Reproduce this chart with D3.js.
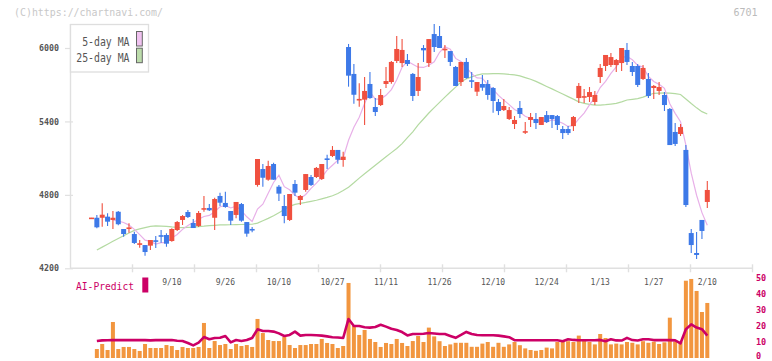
<!DOCTYPE html>
<html><head><meta charset="utf-8">
<script src="https://cdn.jsdelivr.net/npm/d3@7"></script>
<style>
html,body{margin:0;padding:0;background:#fff;}
svg{display:block;}
text{font-family:"DejaVu Sans Mono","Liberation Mono",monospace;}
</style></head>
<body><svg id="chart" width="772" height="361"></svg>
<script>
// ---- data ----
const dates = ["8/20","8/21","8/22","8/25","8/26","8/27","8/28","8/29",
"9/1","9/2","9/3","9/4","9/5","9/8","9/9","9/10","9/11","9/12","9/16","9/17","9/18","9/19","9/22","9/24","9/25","9/26","9/29","9/30",
"10/1","10/2","10/3","10/6","10/7","10/8","10/9","10/10","10/14","10/15","10/16","10/17","10/20","10/21","10/22","10/23","10/24","10/27","10/28","10/29","10/30","10/31",
"11/4","11/5","11/6","11/7","11/10","11/11","11/12","11/13","11/14","11/17","11/18","11/19","11/20","11/21","11/25","11/26","11/27","11/28",
"12/1","12/2","12/3","12/4","12/5","12/8","12/9","12/10","12/11","12/12","12/15","12/16","12/17","12/18","12/19","12/22","12/23","12/24","12/25","12/26","12/29","12/30",
"1/5","1/6","1/7","1/8","1/9","1/13","1/14","1/15","1/16","1/19","1/20","1/21","1/22","1/23","1/26","1/27","1/28","1/29","1/30",
"2/2","2/3","2/4","2/5","2/6","2/9","2/10"];

const open = [4606,4613,4613,4622,4595,4662,4521,4525,4480,4396,
4390,4385,4425,4466,4472,4423,4513,4595,4660,4570,
4546,4683,4693,4613,4791,4734,4668,4636,4725,4578,
4517,4881,5011,4924,5052,4867,4709,4595,4889,4758,
4840,4946,4946,4930,5095,5118,5167,5085,6008,5788,
5575,5578,5706,5518,5534,5706,5722,5894,5877,5902,
5788,5649,6000,5877,6114,6098,5985,5975,5845,5722,
5886,5732,5643,5706,5706,5673,5559,5493,5420,5379,
5510,5312,5412,5420,5371,5452,5452,5444,5338,5338,
5362,5591,5598,5600,5559,5763,5853,5861,5861,5877,
5984,5853,5853,5747,5747,5673,5649,5616,5502,5314,
5297,5167,4488,4325,4595,4742];

const high = [4612,4636,4731,4649,4668,4668,4521,4568,4499,4431,
4390,4431,4464,4513,4486,4527,4586,4635,4676,4603,
4668,4791,4725,4777,4818,4826,4668,4742,4733,4578,
4537,5093,5052,5079,5063,4881,4799,4807,4921,4799,
4970,4962,5028,5052,5128,5199,5167,5153,6033,5869,
5712,5763,5804,5591,5665,5845,5894,6098,6073,5951,
5796,5877,6024,6073,6196,6180,6024,5975,5853,5886,
5918,5804,5722,5779,5738,5681,5583,5583,5518,5444,
5567,5395,5469,5469,5436,5485,5452,5452,5362,5362,
5444,5714,5665,5681,5649,5869,5943,5959,5910,6000,
6041,5886,5869,5861,5796,5698,5722,5640,5510,5387,
5379,5207,4521,4497,4595,4913];

const low = [4604,4527,4540,4546,4521,4551,4458,4491,4399,4368,
4303,4350,4366,4409,4376,4417,4505,4554,4611,4529,
4537,4663,4668,4513,4709,4695,4554,4609,4581,4458,
4494,4867,4867,4916,4924,4750,4568,4586,4791,4717,
4826,4872,4938,4922,5011,5109,5055,5030,5684,5545,
5520,5371,5586,5444,5526,5673,5708,5877,5845,5853,
5567,5608,5886,5845,5967,6000,5918,5853,5690,5690,
5749,5673,5608,5651,5578,5471,5452,5485,5412,5338,
5428,5297,5354,5338,5371,5387,5346,5330,5256,5289,
5322,5550,5550,5559,5534,5714,5812,5845,5804,5812,
5861,5771,5681,5739,5591,5583,5616,5485,5207,5199,
5281,4701,4325,4276,4439,4693];

const close = [4610,4535,4638,4581,4613,4560,4480,4530,4407,4400,
4333,4431,4420,4462,4401,4521,4578,4627,4619,4529,
4652,4687,4674,4766,4736,4701,4589,4742,4589,4483,
4513,5093,4940,5036,4924,4810,4627,4807,4818,4791,
4970,4881,5020,5052,5088,5167,5087,5112,5774,5618,
5580,5649,5591,5477,5616,5730,5886,5992,5984,5869,
5608,5763,5981,6073,6008,6000,5990,5886,5690,5886,
5755,5728,5722,5676,5616,5567,5485,5526,5493,5412,
5461,5316,5436,5387,5436,5395,5420,5371,5305,5305,
5436,5690,5602,5640,5616,5837,5943,5926,5902,6000,
5886,5804,5698,5837,5608,5690,5681,5534,5207,5216,
5354,4717,4390,4309,4505,4840];

const ma5 = [null,null,null,null,4595,4585,4574,4553,4518,4475,
4430,4420,4398,4409,4409,4447,4476,4518,4549,4575,
4601,4623,4632,4662,4703,4713,4693,4707,4671,4621,
4583,4684,4724,4813,4901,4961,4867,4841,4797,4771,
4803,4853,4896,4943,5002,5042,5083,5101,5246,5352,
5434,5547,5642,5583,5583,5613,5660,5740,5842,5892,
5868,5843,5841,5859,5887,5965,6010,5991,5915,5890,
5841,5789,5756,5753,5699,5662,5613,5574,5537,5497,
5475,5442,5424,5402,5407,5394,5415,5402,5385,5359,
5367,5421,5468,5535,5597,5677,5728,5792,5845,5922,
5931,5904,5858,5845,5767,5727,5703,5670,5544,5466,
5398,5206,4977,4797,4655,4552];

const ma25 = [null,4350,4373,4397,4421,4444,4466,4488,4510,4522,
4533,4542,4546,4544,4542,4538,4535,4533,4535,4537,
4541,4544,4548,4551,4554,4555,4556,4557,4558,4559,
4560,4569,4589,4608,4629,4654,4680,4706,4722,4730,
4738,4747,4756,4767,4779,4793,4811,4835,4863,4899,
4937,4973,5007,5042,5077,5111,5145,5179,5219,5267,
5315,5372,5420,5469,5513,5556,5599,5640,5680,5722,
5748,5764,5779,5788,5789,5790,5790,5788,5784,5781,
5772,5758,5745,5727,5707,5686,5666,5645,5624,5603,
5582,5560,5548,5540,5534,5534,5537,5542,5547,5560,
5575,5581,5587,5599,5615,5630,5632,5634,5631,5627,
5620,5583,5546,5511,5480,5461];

const volume = [null,5.6,8.75,5,22.5,5.6,6.9,6.9,5.6,4.4,
8.75,6.25,6.25,6.25,8.1,7.5,5,6.9,6.25,6.25,
6.9,21.9,6.25,10.6,8.1,8.75,5.6,8.75,7.5,8.1,
6.9,24.4,15.6,11.25,10.6,10.6,13.1,8.1,6.25,8.1,
8.1,8.75,8.75,11.9,9.4,8.75,6.25,7.5,46.9,20,
14.4,17.5,11.9,10,6.9,9.4,8.75,11.9,9.4,7.5,
10.6,13.75,10,19,13.5,10.5,7.5,8.5,9.5,9.5,
9.5,7,7,9,10,7,9.5,7,8.5,10,
8,6,5,4.5,5,6.5,6,10,11,10.5,
10,14,11,10,8.5,15,12.5,8.5,9,8.5,
10,9.5,8.5,10.5,9.5,10.2,8.75,9.8,25.2,10.2,
10.2,48.3,49.4,41.9,28.75,34.4];

const aiPredict = [null,10.6,11,11.1,11.2,11.2,11.2,11.2,11.2,11.2,
11.2,11,11.2,11.2,11.2,11.2,10.8,10.6,9.4,7.9,
9.6,13.1,11.7,12.5,12.7,13.75,9.8,11.25,10.6,11.2,
12.5,17.9,16.9,16.9,16.5,15.4,13.75,14.4,16.5,14,
14.4,14.4,14.2,14,13.5,13,12.8,12.5,24.4,20,
20,19.2,19,19.4,20.8,19.6,18.3,17.5,16.2,14.1,
15,15,15.2,15.6,15.3,15,15,13.8,12.6,14.4,
16.3,15,14.4,14.2,14.2,14.2,14,13.5,13,11.1,
11.1,11.1,11.1,11.1,11.1,11.1,11.1,11.1,10.5,11.7,
11.3,11.1,11.1,11.1,11.1,11.3,10.5,11.7,11,10.9,
12.6,11.2,10.9,11.7,11.7,11.2,11.2,11.2,11.2,11,
9.2,18,21,19,18,14];

const dateLabels = ["9/10","9/26","10/10","10/27","11/11","11/26","12/10","12/24","1/13","1/27","2/10"];
const priceTicks = [4200,4800,5400,6000];
const volumeTicks = [0,10,20,30,40,50];
const legendItems = ["5-day MA","25-day MA"];

// ---- drawing ----
const svg = d3.select("#chart");
const RED = "#f0503f", BLUE = "#3d79e8", PINK = "#e8b0e8", GREEN = "#b4daa2",
      ORANGE = "#f2963f", MAG = "#cc0066", AXIS = "#e0e0e0";

const x = d3.scalePoint().domain(dates).range([91.5, 707.3]);
const y = d3.scaleLinear().domain([4200, 6000]).range([268.3, 48]);
const yv = d3.scaleLinear().domain([0, 50]).range([358, 278]);
const gridX = d3.scaleLinear().domain([0, 11]).range([70, 752]);

const rows = dates.map((d, i) => ({d, i, o: open[i], h: high[i], l: low[i], c: close[i],
  m5: ma5[i], m25: ma25[i], v: volume[i], ai: aiPredict[i]}));

// header
svg.append("text").attr("x", 14).attr("y", 16).attr("font-size", 10).attr("fill", "#c8c8c8")
  .attr("textLength", 149).attr("lengthAdjust", "spacingAndGlyphs").text("(C)https://chartnavi.com/");
svg.append("text").attr("x", 757.5).attr("y", 16).attr("text-anchor", "end").attr("font-size", 10)
  .attr("fill", "#bbb").text("6701");

// axes of price panel
svg.append("line").attr("x1", 70.5).attr("x2", 70.5).attr("y1", 24).attr("y2", 268.5)
  .attr("stroke", AXIS).attr("stroke-width", 1.4);
svg.append("line").attr("x1", 70).attr("x2", 752).attr("y1", 268.3).attr("y2", 268.3)
  .attr("stroke", AXIS).attr("stroke-width", 1.4);

const yAxis = d3.axisLeft(y).tickValues(priceTicks).tickSize(8).tickPadding(6).tickFormat(d3.format("d"));
const gy = svg.append("g").attr("transform", "translate(73,0)").call(yAxis);
gy.select(".domain").remove();
gy.selectAll(".tick line").attr("stroke", AXIS).attr("stroke-width", 1.2);
gy.selectAll(".tick text").attr("fill", "#555").attr("font-size", 8.3)
  .attr("font-family", "DejaVu Sans Mono").attr("font-weight", "bold");

const xAxis = d3.axisBottom(gridX).tickValues(d3.range(1, 12)).tickSize(8).tickFormat("");
const gx = svg.append("g").attr("transform", "translate(0,264.3)").call(xAxis);
gx.select(".domain").remove();
gx.selectAll(".tick line").attr("stroke", AXIS).attr("stroke-width", 1.4);

// moving averages
const lineMA = key => d3.line().defined(r => r[key] != null).x(r => x(r.d)).y(r => y(r[key]));
svg.append("path").datum(rows).attr("d", lineMA("m25")).attr("fill", "none")
  .attr("stroke", GREEN).attr("stroke-width", 1.2);
svg.append("path").datum(rows).attr("d", lineMA("m5")).attr("fill", "none")
  .attr("stroke", PINK).attr("stroke-width", 1.2);

// candles
const cg = svg.append("g");
cg.selectAll("line.wick").data(rows).join("line").attr("class", "wick")
  .attr("x1", r => x(r.d)).attr("x2", r => x(r.d))
  .attr("y1", r => y(r.h)).attr("y2", r => y(r.l))
  .attr("stroke", r => r.c >= r.o ? RED : BLUE).attr("stroke-width", 1.1);
cg.selectAll("rect.body").data(rows).join("rect").attr("class", "body")
  .attr("x", r => x(r.d) - 2.5).attr("width", 5)
  .attr("y", r => { const t = y(Math.max(r.o, r.c)), b = y(Math.min(r.o, r.c));
      return (b - t) < 1.6 ? (t + b) / 2 - 0.8 : t; })
  .attr("height", r => Math.max(1.6, y(Math.min(r.o, r.c)) - y(Math.max(r.o, r.c))))
  .attr("fill", r => r.c >= r.o ? RED : BLUE);

// legend
svg.append("rect").attr("x", 70.5).attr("y", 24.5).attr("width", 78).attr("height", 47.5)
  .attr("fill", "#fff").attr("stroke", "#dedede").attr("stroke-width", 1.3);
const lg = svg.append("g");
lg.selectAll("text").data(legendItems).join("text")
  .attr("x", 129.5).attr("y", (d, i) => 45.5 + i * 16.3).attr("text-anchor", "end")
  .attr("font-size", 12).attr("fill", "#555")
  .attr("textLength", (d) => d.length * 5.92).attr("lengthAdjust", "spacingAndGlyphs").text(d => d);
lg.selectAll("rect").data([PINK, GREEN]).join("rect")
  .attr("x", 136.5).attr("y", (d, i) => 31.5 + i * 16.7).attr("width", 5.8).attr("height", 14.5)
  .attr("fill", (d, i) => i === 0 ? "#f0c2f0" : "#bcdcab").attr("stroke", "#666").attr("stroke-width", 1);

// date labels
svg.append("g").selectAll("text").data(dateLabels).join("text")
  .attr("x", d => x(d)).attr("y", 285).attr("text-anchor", "middle")
  .attr("font-size", 8).attr("fill", "#555").text(d => d);

// AI-Predict panel
svg.append("text").attr("x", 76).attr("y", 290.3).attr("font-size", 11).attr("fill", MAG)
  .attr("textLength", 58).attr("lengthAdjust", "spacingAndGlyphs").text("AI-Predict");
svg.append("rect").attr("x", 142.3).attr("y", 277.5).attr("width", 6).attr("height", 15).attr("fill", MAG);

const vrows = rows.filter(r => r.v != null);
svg.append("g").selectAll("rect").data(vrows).join("rect")
  .attr("x", r => x(r.d) - 2).attr("width", 4)
  .attr("y", r => yv(r.v)).attr("height", r => yv(0) - yv(r.v)).attr("fill", ORANGE);

svg.append("path").datum(rows)
  .attr("d", d3.line().defined(r => r.ai != null).x(r => x(r.d)).y(r => yv(r.ai)))
  .attr("fill", "none").attr("stroke", MAG).attr("stroke-width", 2.6).attr("stroke-linejoin", "round");

const vAxis = d3.axisRight(yv).tickValues(volumeTicks).tickSize(0).tickPadding(4);
const gv = svg.append("g").attr("transform", "translate(752,0)").call(vAxis);
gv.select(".domain").remove();
gv.selectAll(".tick text").attr("fill", MAG).attr("font-size", 8.5)
  .attr("font-family", "DejaVu Sans Mono").attr("font-weight", "bold")
  .attr("dy", d => d === 0 ? "0.05em" : "0.32em");
</script>
</body></html>
